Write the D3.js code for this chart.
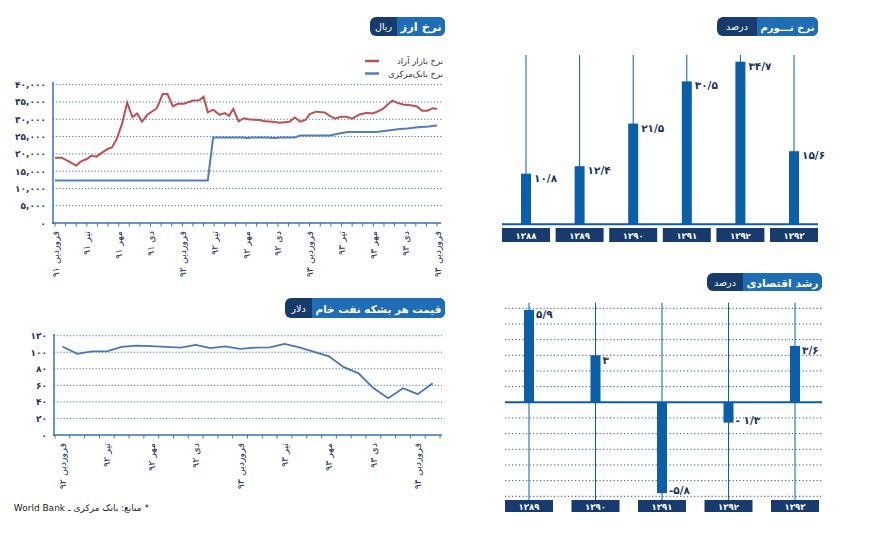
<!DOCTYPE html>
<html>
<head>
<meta charset="utf-8">
<script src="https://cdn.jsdelivr.net/npm/d3@7"></script>
<style>
  body { margin: 0; background: #fff; }
  svg text { font-family: "DejaVu Sans", "Noto Sans", sans-serif; }
</style>
</head>
<body>
<svg id="chart" width="881" height="535"></svg>
<script>
// exchange rate (rial) - months counted from farvardin 91
const fxFreeMonths = [0, 0.63, 1.2, 2.0, 2.5, 3.0, 3.45, 3.9, 4.5, 5.0, 5.35, 5.8, 6.3, 6.8, 7.3, 7.75, 8.2, 8.7, 9.6, 10.15, 10.6, 11.1, 11.6, 12.15, 13.0, 13.6, 14.0, 14.4, 14.9, 15.5, 16.0, 16.4, 16.8, 17.3, 17.8, 18.4, 19.3, 19.8, 20.5, 21.2, 22.1, 22.6, 23.1, 23.6, 24.0, 24.6, 25.4, 25.9, 26.4, 26.9, 27.5, 28.0, 28.7, 29.4, 29.9, 30.3, 30.9, 31.4, 31.8, 32.2, 32.8, 33.7, 34.1, 34.6, 35.1, 35.6, 36.0];
const fxFree = [18900, 18900, 18000, 16600, 17900, 18500, 19500, 19200, 20500, 21500, 21800, 24200, 28500, 34800, 30600, 31700, 29300, 31300, 33200, 37300, 37300, 33800, 34500, 34500, 35400, 35500, 36500, 32000, 32800, 31300, 31800, 31000, 33000, 29400, 30300, 29900, 29800, 29400, 29300, 29000, 29300, 30500, 29300, 29800, 31500, 32200, 32000, 31000, 30200, 30700, 30700, 30200, 31400, 31900, 31700, 32100, 33000, 34400, 35400, 34800, 34300, 34000, 33700, 32500, 32500, 33200, 33000];
const fxOfficialMonths = [0, 14.4, 14.9, 17.8, 18.0, 18.6, 20.0, 20.7, 21.3, 22.6, 23.1, 25.9, 26.8, 27.6, 30.3, 31.2, 32.5, 33.2, 34.2, 35.2, 36.0];
const fxOfficial = [12260, 12260, 24700, 24700, 24600, 24750, 24750, 24600, 24750, 24750, 25300, 25300, 25900, 26300, 26300, 26700, 27200, 27300, 27700, 27900, 28200];
const fxTickMonths = [0, 3, 6, 9, 12, 15, 18, 21, 24, 27, 30, 33, 36];
const fxTickLabels = ["فروردین ۹۱", "تیر ۹۱", "مهر ۹۱", "دی ۹۱", "فروردین ۹۲", "تیر ۹۲", "مهر ۹۲", "دی ۹۲", "فروردین ۹۳", "تیر ۹۳", "مهر ۹۳", "دی ۹۳", "فروردین ۹۴"];
const fxYTicks = [0, 5000, 10000, 15000, 20000, 25000, 30000, 35000, 40000];

// crude oil price (dollar) - monthly from farvardin 92
const oilPrice = [107, 98, 101, 101, 106.5, 108, 107.5, 106.5, 105.5, 109, 105, 107, 104, 105.5, 106, 110, 106, 100.5, 95, 82, 74.5, 56.7, 44.5, 56.5, 49.3, 62.5];
const oilTickIdx = [0, 3, 6, 9, 12, 15, 18, 21, 24];
const oilTickLabels = ["فروردین ۹۲", "تیر ۹۲", "مهر ۹۲", "دی ۹۲", "فروردین ۹۳", "تیر ۹۳", "مهر ۹۳", "دی ۹۳", "فروردین ۹۴"];
const oilYTicks = [0, 20, 40, 60, 80, 100, 120];

// inflation (percent)
const inflationYears = ["۱۳۸۸", "۱۳۸۹", "۱۳۹۰", "۱۳۹۱", "۱۳۹۲", "۱۳۹۳"];
const inflation = [10.8, 12.4, 21.5, 30.5, 34.7, 15.6];

// economic growth (percent)
const growthYears = ["۱۳۸۹", "۱۳۹۰", "۱۳۹۱", "۱۳۹۲", "۱۳۹۳"];
const growth = [5.9, 3, -5.8, -1.3, 3.6];

const navy = "#173b6c", lightBlue = "#1f6db4", barBlue = "#0b5ea8", axisBlue = "#3a72b8", textNavy = "#1b3560";

const svg = d3.select("#chart");

// persian digits
function fa(s) {
    return String(s).replace(/[0-9]/g, d => "۰۱۲۳۴۵۶۷۸۹"[+d]);
}
function faDec(v) {
    let s = fa(Math.abs(v)).replace(".", "/");
    if (v < 0) s = (Math.abs(v) < 2 ? "- " : "-") + s;
    return s;
}

function titleBox(x0, x1, xSplit, y0, y1, title, unit) {
    let g = svg.append("g");
    g.append("rect").attr("x", x0).attr("y", y0).attr("width", x1 - x0).attr("height", y1 - y0)
        .attr("rx", 6).attr("fill", navy);
    g.append("rect").attr("x", xSplit).attr("y", y0).attr("width", x1 - xSplit).attr("height", y1 - y0)
        .attr("rx", 6).attr("fill", lightBlue);
    g.append("rect").attr("x", xSplit).attr("y", y0).attr("width", 6).attr("height", y1 - y0)
        .attr("fill", lightBlue);
    let t = g.append("text").attr("x", (xSplit + x1) / 2).attr("y", (y0 + y1) / 2 + 4.5)
        .attr("text-anchor", "middle").attr("direction", "rtl")
        .attr("fill", "#fff").attr("font-size", 11.5).attr("font-weight", "bold").text(title);
    // shrink the title if it does not fit its part of the box
    let room = x1 - xSplit - 7;
    let len = t.node().getComputedTextLength();
    if (len > room) t.attr("font-size", 11.5 * room / len);
    g.append("text").attr("x", (x0 + xSplit) / 2).attr("y", (y0 + y1) / 2 + 3.5)
        .attr("text-anchor", "middle").attr("direction", "rtl")
        .attr("fill", "#fff").attr("font-size", 9.5).text(unit);
}

/* ---------- exchange rate ---------- */
{
    const x = d3.scaleLinear().domain([0, 36]).range([55, 437]);
    const y = d3.scaleLinear().domain([0, 40000]).range([223, 84.7]);
    const g = svg.append("g");

    g.selectAll(".grid").data(fxYTicks.slice(1)).enter().append("line")
        .attr("x1", 53).attr("x2", 443).attr("y1", d => y(d)).attr("y2", d => y(d))
        .attr("stroke", axisBlue).attr("stroke-width", 1).attr("stroke-dasharray", "1.2,2");

    g.selectAll(".ylab").data(fxYTicks).enter().append("text")
        .attr("x", 46).attr("y", d => y(d) + 3.5).attr("text-anchor", "end")
        .attr("font-size", 9).attr("font-weight", "bold").attr("letter-spacing", 1).attr("fill", textNavy)
        .text(d => fa(d3.format(",")(d)));

    g.append("line").attr("x1", 53).attr("x2", 53).attr("y1", 82).attr("y2", 224)
        .attr("stroke", axisBlue).attr("stroke-width", 1.5);
    g.append("line").attr("x1", 52).attr("x2", 441).attr("y1", 223).attr("y2", 223)
        .attr("stroke", axisBlue).attr("stroke-width", 1.5);
    g.selectAll(".tick").data(d3.range(37)).enter().append("line")
        .attr("x1", d => x(d)).attr("x2", d => x(d)).attr("y1", 223).attr("y2", 226.5)
        .attr("stroke", axisBlue).attr("stroke-width", 1);

    g.selectAll(".xlab").data(fxTickMonths).enter().append("text")
        .attr("transform", d => `translate(${x(d) + 3.5},231) rotate(-90)`)
        .attr("direction", "rtl").attr("text-anchor", "start")
        .attr("font-size", 9.5).attr("fill", textNavy)
        .text((d, i) => fxTickLabels[i]);

    const line = d3.line().x(d => x(d[0])).y(d => y(d[1]));
    g.append("path").datum(fxOfficialMonths.map((m, i) => [m, fxOfficial[i]]))
        .attr("d", line).attr("fill", "none").attr("stroke", "#4f7fbf").attr("stroke-width", 2);
    g.append("path").datum(fxFreeMonths.map((m, i) => [m, fxFree[i]]))
        .attr("d", line).attr("fill", "none").attr("stroke", "#c0504d").attr("stroke-width", 2);

    // legend
    const legend = [["نرخ بازار آزاد", "#c0504d"], ["نرخ بانک‌مرکزی", "#4f7fbf"]];
    legend.forEach((l, i) => {
        g.append("line").attr("x1", 365).attr("x2", 379).attr("y1", 61 + i * 12.5).attr("y2", 61 + i * 12.5)
            .attr("stroke", l[1]).attr("stroke-width", 2.5);
        g.append("text").attr("x", 443).attr("y", 61 + i * 12.5 + 3)
            .attr("direction", "rtl").attr("text-anchor", "start")
            .attr("font-size", 8.5).attr("fill", "#333").text(l[0]);
    });

    titleBox(370, 445, 397, 17, 36, "نرخ ارز", "ریال");
}

/* ---------- crude oil ---------- */
{
    const x = d3.scaleBand().domain(d3.range(oilPrice.length)).range([55, 440]);
    const y = d3.scaleLinear().domain([0, 120]).range([435, 335.7]);
    const g = svg.append("g");

    g.selectAll(".grid").data(oilYTicks.slice(1)).enter().append("line")
        .attr("x1", 54).attr("x2", 442).attr("y1", d => y(d)).attr("y2", d => y(d))
        .attr("stroke", axisBlue).attr("stroke-width", 1).attr("stroke-dasharray", "1.2,2");

    g.selectAll(".ylab").data(oilYTicks).enter().append("text")
        .attr("x", 47).attr("y", d => y(d) + 3.5).attr("text-anchor", "end")
        .attr("font-size", 9).attr("font-weight", "bold").attr("letter-spacing", 1.5)
        .attr("fill", textNavy).text(d => fa(d));

    g.append("line").attr("x1", 54).attr("x2", 54).attr("y1", 334).attr("y2", 436)
        .attr("stroke", axisBlue).attr("stroke-width", 1.5);
    g.append("line").attr("x1", 53).attr("x2", 442).attr("y1", 435).attr("y2", 435)
        .attr("stroke", axisBlue).attr("stroke-width", 1.5);
    g.selectAll(".tick").data(d3.range(oilPrice.length + 1)).enter().append("line")
        .attr("x1", d => 55 + d * x.bandwidth()).attr("x2", d => 55 + d * x.bandwidth())
        .attr("y1", 435).attr("y2", 438.5)
        .attr("stroke", axisBlue).attr("stroke-width", 1);

    g.selectAll(".xlab").data(oilTickIdx).enter().append("text")
        .attr("transform", d => `translate(${x(d) + x.bandwidth() / 2 + 3.5},443) rotate(-90)`)
        .attr("direction", "rtl").attr("text-anchor", "start")
        .attr("font-size", 9.5).attr("fill", textNavy)
        .text((d, i) => oilTickLabels[i]);

    const line = d3.line().x((d, i) => x(i) + x.bandwidth() / 2).y(d => y(d));
    g.append("path").datum(oilPrice).attr("d", line)
        .attr("fill", "none").attr("stroke", "#4a76b4").attr("stroke-width", 1.8);

    titleBox(285, 445, 312, 298, 318, "قیمت هر بشکه نفت خام", "دلار");

    svg.append("text").attr("x", 149).attr("y", 511)
        .attr("direction", "rtl").attr("text-anchor", "start")
        .attr("font-size", 9).attr("fill", "#222")
        .text("* منابع: بانک مرکزی ـ World Bank");
}

/* ---------- inflation ---------- */
{
    const x = d3.scalePoint().domain(inflationYears).range([526, 794]);
    const y = d3.scaleLinear().domain([0, 35]).range([224.3, 60.3]);
    const g = svg.append("g");

    g.selectAll(".vline").data(inflationYears).enter().append("line")
        .attr("x1", d => x(d)).attr("x2", d => x(d)).attr("y1", 55).attr("y2", 224)
        .attr("stroke", barBlue).attr("stroke-width", 1);

    g.selectAll(".bar").data(inflation).enter().append("rect")
        .attr("x", (d, i) => x(inflationYears[i]) - 5).attr("width", 10)
        .attr("y", d => y(d)).attr("height", d => y(0) - y(d))
        .attr("fill", barBlue);

    g.append("line").attr("x1", 502).attr("x2", 818).attr("y1", y(0)).attr("y2", y(0))
        .attr("stroke", barBlue).attr("stroke-width", 2);

    g.selectAll(".vlab").data(inflation).enter().append("text")
        .attr("x", (d, i) => x(inflationYears[i]) + 8).attr("y", d => y(d) + 8)
        .attr("font-size", 10.5).attr("font-weight", "bold").attr("letter-spacing", 0.5)
        .attr("fill", textNavy).text(d => faDec(d));

    g.selectAll(".box").data(inflationYears).enter().append("rect")
        .attr("x", d => x(d) - 24).attr("width", 48).attr("y", 228).attr("height", 14)
        .attr("fill", navy);
    g.selectAll(".boxlab").data(inflationYears).enter().append("text")
        .attr("x", d => x(d)).attr("y", 238.5).attr("text-anchor", "middle")
        .attr("font-size", 8.5).attr("font-weight", "bold").attr("letter-spacing", 0.8)
        .attr("fill", "#fff").text(d => d);

    titleBox(717, 818, 757, 17, 36, "نرخ تـــورم", "درصد");
}

/* ---------- economic growth ---------- */
{
    const x = d3.scalePoint().domain(growthYears).range([529, 795]);
    const y = d3.scaleLinear().domain([-6, 6]).range([496.3, 308.3]);
    const g = svg.append("g");

    g.selectAll(".grid").data(d3.range(-6, 7).filter(d => d !== 0)).enter().append("line")
        .attr("x1", 505).attr("x2", 822).attr("y1", d => y(d)).attr("y2", d => y(d))
        .attr("stroke", "#2c4f85").attr("stroke-width", 1).attr("stroke-dasharray", "1.2,2.3");

    g.selectAll(".vline").data(growthYears).enter().append("line")
        .attr("x1", d => x(d)).attr("x2", d => x(d)).attr("y1", 302.7).attr("y2", 500)
        .attr("stroke", barBlue).attr("stroke-width", 1);

    g.selectAll(".bar").data(growth).enter().append("rect")
        .attr("x", (d, i) => x(growthYears[i]) - 5).attr("width", 10)
        .attr("y", d => y(Math.max(0, d))).attr("height", d => Math.abs(y(d) - y(0)))
        .attr("fill", barBlue);

    g.append("line").attr("x1", 505).attr("x2", 822).attr("y1", y(0)).attr("y2", y(0))
        .attr("stroke", barBlue).attr("stroke-width", 2);

    g.selectAll(".vlab").data(growth).enter().append("text")
        .attr("x", (d, i) => x(growthYears[i]) + 7).attr("y", d => d > 0 ? y(d) + 8.5 : y(d) + 1)
        .attr("font-size", 10.5).attr("font-weight", "bold").attr("letter-spacing", 0.5)
        .attr("fill", textNavy).text(d => faDec(d));

    g.selectAll(".box").data(growthYears).enter().append("rect")
        .attr("x", d => x(d) - 24).attr("width", 48).attr("y", 500).attr("height", 12)
        .attr("fill", navy);
    g.selectAll(".boxlab").data(growthYears).enter().append("text")
        .attr("x", d => x(d)).attr("y", 509.5).attr("text-anchor", "middle")
        .attr("font-size", 8.5).attr("font-weight", "bold").attr("letter-spacing", 0.8)
        .attr("fill", "#fff").text(d => d);

    titleBox(707, 822, 743, 273, 291, "رشد اقتصادی", "درصد");
}
</script>
</body>
</html>
